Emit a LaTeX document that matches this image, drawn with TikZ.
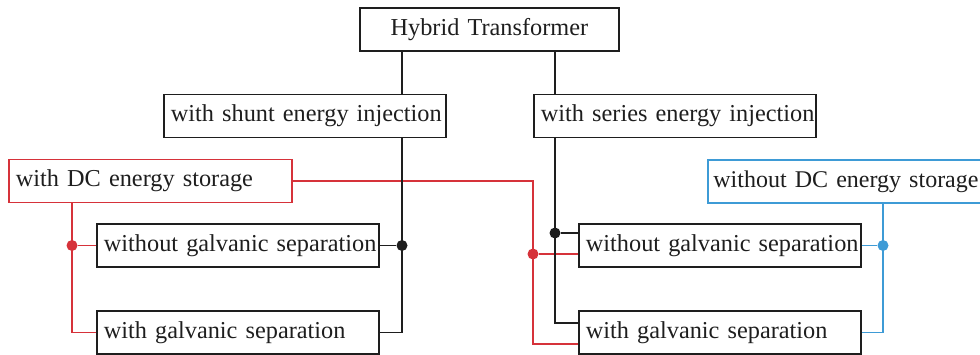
\documentclass[tikz,border=0pt]{standalone}
\usepackage{fontspec}
\setmainfont{Liberation Serif}
\definecolor{myred}{HTML}{D6323A}
\definecolor{myblue}{HTML}{3E9BD6}
\definecolor{myink}{HTML}{1E1E1E}
\newcommand{\boxfont}{\fontsize{24.3}{28}\selectfont}
\hbadness=10000 \hfuzz=50pt
\tikzset{
  box/.style={draw=myink, line width=1.8pt, inner xsep=7pt, inner ysep=0pt,
    minimum height=43pt, align=left, font=\boxfont, anchor=west, text=myink},
  conn/.style={line width=1.9pt},
  jdot/.style={circle, inner sep=0pt, minimum size=11pt},
}
\begin{document}
\begin{tikzpicture}[x=1pt,y=-1pt]
\useasboundingbox (0,0) rectangle (980,355);
\clip (0,0) rectangle (980,355);
% nodes
\node[box, text width=245pt, align=center] (top) at (359,29.5) {Hybrid Transformer};
\node[box, text width=268pt] (shunt) at (163,116) {\mbox{with shunt energy injection}};
\node[box, text width=268pt] (series) at (533,116) {\mbox{with series energy injection}};
\node[box, draw=myred, text width=269pt] (dc) at (8,181) {\mbox{with DC energy storage}};
\node[box, draw=myblue, inner xsep=5.5pt, text width=272pt] (nodc) at (707,181.5) {\mbox{\fontsize{24}{28}\selectfont without DC energy storage}};
\node[box, text width=268pt] (lwo) at (96,245.5) {\mbox{without galvanic separation}};
\node[box, text width=268pt] (lw) at (96,332.5) {\mbox{with galvanic separation}};
\node[box, text width=268pt] (rwo) at (578,245.5) {\mbox{without galvanic separation}};
\node[box, text width=268pt] (rw) at (578,332.5) {\mbox{with galvanic separation}};
% helper x positions
\coordinate (xL) at (402,0);
\coordinate (xR) at (555,0);
\coordinate (xRed) at (72,0);
\coordinate (xRed2) at (533,0);
\coordinate (xBlue) at (883,0);
% red connectors
\draw[conn, myred] (dc.south -| xRed) |- (lw.west);
\node[jdot, fill=myred] (rdL) at (lwo.west -| xRed) {};
\draw[conn, myred] (rdL) -- (lwo.west);
\draw[conn, myred] (dc.east) -| ([yshift=-11.5pt]rw.west -| xRed2) -- ([yshift=-11.5pt]rw.west);
\node[jdot, fill=myred] (rdR) at ([yshift=-8.5pt]rwo.west -| xRed2) {};
\draw[conn, myred] (rdR) -- ([yshift=-8.5pt]rwo.west);
% blue connectors
\draw[conn, myblue] (nodc.south -| xBlue) |- (rw.east);
\node[jdot, fill=myblue] (bd) at (rwo.east -| xBlue) {};
\draw[conn, myblue] (bd) -- (rwo.east);
% black connectors
\draw[conn, myink] (top.south -| xL) -- (shunt.north -| xL);
\draw[conn, myink] (top.south -| xR) -- (series.north -| xR);
\draw[conn, myink] (shunt.south -| xL) |- (lw.east);
\node[jdot, fill=myink] (kdL) at (lwo.east -| xL) {};
\draw[conn, myink] (kdL) -- (lwo.east);
\draw[conn, myink] (series.south -| xR) |- ([yshift=9.5pt]rw.west);
\node[jdot, fill=myink] (kdR) at ([yshift=12.5pt]rwo.west -| xR) {};
\draw[conn, myink] (kdR) -- ([yshift=12.5pt]rwo.west);
\end{tikzpicture}
\end{document}
